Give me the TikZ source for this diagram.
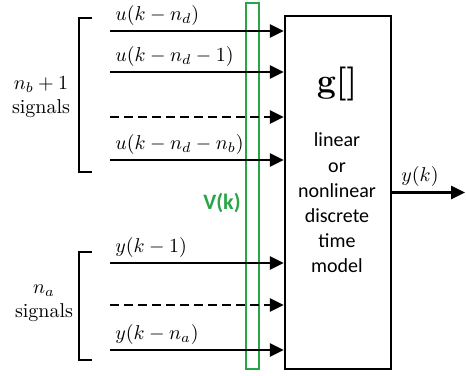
\documentclass[tikz,border=0pt]{standalone}
\usepackage{fontspec}
\usepackage{amsmath}
\usepackage{xcolor}
\usepackage{tikz}
\usetikzlibrary{arrows.meta,positioning}

\newfontfamily\boxfont{Carlito}
\definecolor{vgreen}{RGB}{40,165,70}

\tikzset{
  sig/.style={line width=1.4pt, -{Triangle[length=7pt,width=6.5pt]}},
  brack/.style={line width=1.2pt},
  siglabel/.style={anchor=south west, inner sep=2.5pt, font=\normalsize}
}

\begin{document}
\begin{tikzpicture}[x=0.5pt, y=-0.5pt]
\useasboundingbox (0,0) rectangle (466,375);

% Model block
\node[draw, line width=1.2pt, minimum width=53pt, minimum height=176.5pt, inner sep=0pt] (gbox) at (338,192.5) {};
\node[font=\fontsize{17}{20}\selectfont\bfseries] (gname) at (337,84) {g[]};
\node[font=\boxfont\fontsize{10}{12.6}\selectfont, align=center] (gtext) at (337,203)
  {linear\\or\\nonlinear\\discrete\\time\\model};

% Regressor vector bar
\node[draw=vgreen, line width=0.9pt, minimum width=6.5pt, minimum height=183pt, inner sep=0pt] (vbar) at (252.5,186) {};
\node[font=\boxfont\fontsize{11}{13}\selectfont\bfseries, text=vgreen] (vlabel) at (222,203) {V(k)};

% Input signals
\foreach \n/\yy/\lab in {ua/31/{$u(k-n_d)$}, ub/72/{$u(k-n_d-1)$}, uc/160/{$u(k-n_d-n_b)$},
                        ya/263/{$y(k-1)$}, yc/350/{$y(k-n_a)$}} {
    \coordinate (\n) at (110,\yy);
    \draw[sig] (\n) -- (\n -| gbox.west);
    \node[siglabel] at (\n) {\lab};
}
\foreach \n/\yy in {ud/117, yb/305} {
    \coordinate (\n) at (110,\yy);
    \draw[sig, dash pattern=on 4.5pt off 2.5pt] (\n) -- (\n -| gbox.west);
}

% Brackets and group labels
\draw[brack] (92,18) -- (79,18) -- (79,172) -- (92,172);
\draw[brack] (92,252) -- (79,252) -- (79,360) -- (92,360);
\node[align=center] (nb) at (41,97) {$n_b+1$\\signals};
\node[align=center] (na) at (44,303) {$n_a$\\signals};

% Output
\coordinate (yout) at (465,192.5);
\draw[sig] (gbox.east) -- (yout);
\node (ylabel) at (420,176) {$y(k)$};

\end{tikzpicture}
\end{document}
